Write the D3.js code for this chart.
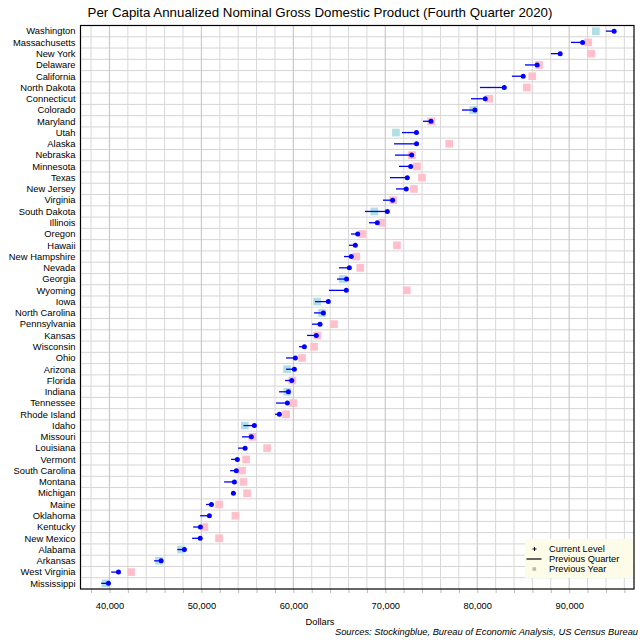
<!DOCTYPE html>
<html lang="en">
<head>
  <meta charset="UTF-8">
  <title>Per Capita Annualized Nominal GDP (Fourth Quarter 2020)</title>
  <script src="https://d3js.org/d3.v7.min.js"></script>
  <style>
    body { margin: 0; background: white; font-family: "Liberation Sans", Arial, sans-serif; }
    svg { display: block; }
  </style>
</head>
<body>
<svg width="640" height="640"></svg>
<script>
  // Data, top to bottom
  const states = [
    "Washington", "Massachusetts", "New York", "Delaware", "California",
    "North Dakota", "Connecticut", "Colorado", "Maryland", "Utah",
    "Alaska", "Nebraska", "Minnesota", "Texas", "New Jersey",
    "Virginia", "South Dakota", "Illinois", "Oregon", "Hawaii",
    "New Hampshire", "Nevada", "Georgia", "Wyoming", "Iowa",
    "North Carolina", "Pennsylvania", "Kansas", "Wisconsin", "Ohio",
    "Arizona", "Florida", "Indiana", "Tennessee", "Rhode Island",
    "Idaho", "Missouri", "Louisiana", "Vermont", "South Carolina",
    "Montana", "Michigan", "Maine", "Oklahoma", "Kentucky",
    "New Mexico", "Alabama", "Arkansas", "West Virginia", "Mississippi"
  ];
  const current = [
    94890, 91460, 89020, 86520, 85000,
    82940, 80870, 79750, 74970, 73390,
    73400, 72870, 72760, 72390, 72280,
    70800, 70220, 69130, 67000, 66740,
    66300, 66090, 65790, 65760, 63800,
    63260, 62900, 62500, 61200, 60220,
    60110, 59830, 59460, 59350, 58480,
    55760, 55430, 54750, 53910, 53800,
    53590, 53480, 51090, 50870, 49890,
    49870, 48150, 45620, 40980, 39890
  ];
  const previousQuarter = [
    93990, 90190, 88010, 85190, 83770,
    80290, 79320, 78340, 74100, 71820,
    70950, 71050, 71490, 70510, 71160,
    69750, 67790, 68230, 66270, 66050,
    65510, 64970, 64750, 63880, 62360,
    62250, 62030, 61490, 60620, 59210,
    59210, 59100, 58450, 58120, 58010,
    54570, 54420, 53990, 53230, 53120,
    52470, 53380, 50510, 49860, 49100,
    48990, 47390, 44860, 40190, 39100
  ];
  const previousYear = [
    92900, 92070, 92390, 86710, 85980,
    85400, 81300, 79570, 75000, 71160,
    76960, 72900, 73450, 73990, 73120,
    70850, 68800, 69670, 67500, 71270,
    66850, 67280, 65370, 72330, 62580,
    63120, 64420, 62610, 62250, 60950,
    59320, 59890, 59350, 60000, 59210,
    54720, 55540, 57140, 54860, 54420,
    54570, 54970, 51920, 53700, 50330,
    51920, 47790, 45400, 42360, 39570
  ];
  const xTicks = d3.range(38000, 97000, 2000);
  const legendItems = ["Current Level", "Previous Quarter", "Previous Year"];

  const data = states.map((s, i) => ({
    state: s, cur: current[i], pq: previousQuarter[i], py: previousYear[i]
  }));

  const svg = d3.select("svg");
  const margin = {top: 25.5, right: 6, bottom: 51, left: 80.5};
  const width = 640 - margin.left - margin.right;
  const height = 640 - margin.top - margin.bottom;
  const g = svg.append("g").attr("transform", `translate(${margin.left},${margin.top})`);

  const x = d3.scaleLinear().domain([36850, 97050]).range([0, width]);
  const y = d3.scaleBand().domain(states).range([0, height]);

  // Grille
  g.append("g")
    .selectAll("line")
    .data(states.slice(1))
    .join("line")
      .attr("x1", 0).attr("x2", width)
      .attr("y1", d => y(d)).attr("y2", d => y(d))
      .attr("stroke", "#d4d4d4").attr("stroke-width", 1);
  g.append("g")
    .selectAll("line")
    .data(xTicks)
    .join("line")
      .attr("x1", d => x(d)).attr("x2", d => x(d))
      .attr("y1", 0).attr("y2", height)
      .attr("stroke", d => d % 10000 === 0 ? "#cacaca" : "#d8d8d8")
      .attr("stroke-width", d => d % 10000 === 0 ? 1.2 : 1);

  // Axe X
  const xAxis = g.append("g")
    .attr("transform", `translate(0,${height})`)
    .call(d3.axisBottom(x)
      .tickValues(xTicks)
      .tickSize(4)
      .tickPadding(9)
      .tickFormat(d => d % 10000 === 0 ? d3.format(",")(d) : ""));
  xAxis.select(".domain").remove();
  xAxis.selectAll(".tick line").attr("stroke", "#bbb");
  xAxis.selectAll("text")
    .style("font-family", "'Liberation Sans', Arial, sans-serif")
    .style("font-size", "9.3px")
    .attr("fill", "#000");

  // Etiquettes des etats
  g.append("g")
    .selectAll("text")
    .data(states)
    .join("text")
      .attr("x", -5)
      .attr("y", d => y(d) + y.bandwidth() / 2)
      .attr("dy", "0.35em")
      .attr("text-anchor", "end")
      .style("font-size", "9.4px")
      .text(d => d);

  // Annee precedente
  const sq = 7.7;
  g.append("g")
    .selectAll("rect")
    .data(data)
    .join("rect")
      .attr("x", d => x(d.py) - sq / 2)
      .attr("y", d => y(d.state) + y.bandwidth() / 2 - sq / 2)
      .attr("width", sq).attr("height", sq)
      .attr("fill", d => d.py > d.cur ? "#ffc0cb" : "#b0dfe5");

  // Trimestre precedent
  g.append("g")
    .selectAll("line")
    .data(data)
    .join("line")
      .attr("x1", d => x(d.pq)).attr("x2", d => x(d.cur))
      .attr("y1", d => y(d.state) + y.bandwidth() / 2)
      .attr("y2", d => y(d.state) + y.bandwidth() / 2)
      .attr("stroke", "#0000ff").attr("stroke-width", 1.3);

  // Niveau actuel
  g.append("g")
    .selectAll("circle")
    .data(data)
    .join("circle")
      .attr("cx", d => x(d.cur))
      .attr("cy", d => y(d.state) + y.bandwidth() / 2)
      .attr("r", 2.5)
      .attr("fill", "#0000ff");

  // Cadre
  g.append("rect")
    .attr("width", width).attr("height", height)
    .attr("fill", "none").attr("stroke", "#000").attr("stroke-width", 1.2);

  // Legende
  const legend = g.append("g").attr("transform", `translate(${width - 109},${height - 50})`);
  legend.append("rect")
    .attr("width", 108).attr("height", 39)
    .attr("fill", "#fcfce8");
  legendItems.forEach((label, i) => {
    const row = legend.append("g").attr("transform", `translate(0,${10 + i * 10})`);
    if (i === 0) {
      row.append("path").attr("d", "M7.5,0H11.5M9.5,-2V2").attr("stroke", "#000").attr("stroke-width", 1);
    } else if (i === 1) {
      row.append("line").attr("x1", 1.5).attr("x2", 16.5).attr("stroke", "#000").attr("stroke-width", 1.2);
    } else {
      row.append("rect").attr("x", 7.5).attr("y", -1.8).attr("width", 3.6).attr("height", 3.6).attr("fill", "#bbb");
    }
    row.append("text")
      .attr("x", 24).attr("dy", "0.35em")
      .style("font-size", "9.3px")
      .text(label);
  });

  // Titres
  svg.append("text")
    .attr("x", 320).attr("y", 16.5)
    .attr("text-anchor", "middle")
    .style("font-size", "13.3px")
    .text("Per Capita Annualized Nominal Gross Domestic Product (Fourth Quarter 2020)");
  svg.append("text")
    .attr("x", 320).attr("y", 625)
    .attr("text-anchor", "middle")
    .style("font-size", "9.3px")
    .text("Dollars");
  svg.append("text")
    .attr("x", 638).attr("y", 635)
    .attr("text-anchor", "end")
    .style("font-size", "9.3px")
    .style("font-style", "italic")
    .text("Sources: Stockingblue, Bureau of Economic Analysis, US Census Bureau");
</script>
</body>
</html>
